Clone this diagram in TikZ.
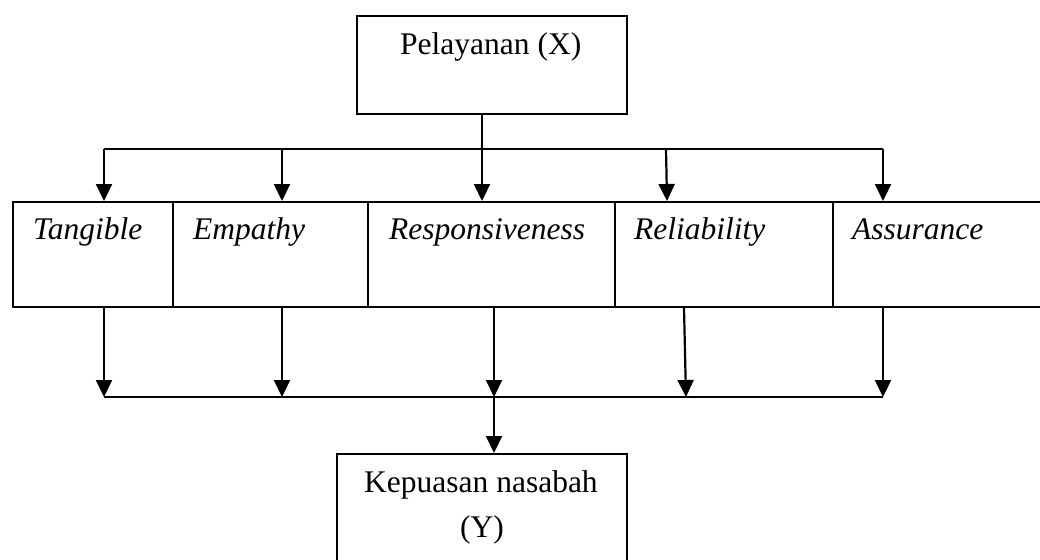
\documentclass[tikz,border=0pt]{standalone}
\usepackage{fontspec}
\setmainfont{Liberation Serif}
\usetikzlibrary{arrows.meta}
\begin{document}
\begin{tikzpicture}[x=1pt,y=-1pt,
  boxframe/.style={draw=black, line width=2.2pt, rectangle, inner sep=0pt, anchor=north west},
  lbl/.style={anchor=base west, inner sep=0pt, font=\fontsize{31.5}{37}\selectfont},
  ilbl/.style={lbl, font=\fontsize{31.5}{37}\selectfont\itshape},
  link/.style={line width=2.2pt, draw=black},
  arr/.style={link, -{Triangle[length=17pt,width=16pt]}},
]
\path[use as bounding box, clip] (0,0) rectangle (1040,559);

% top box
\node[boxframe, minimum width=270pt, minimum height=98pt] (top) at (356,15) {};
\node[lbl] (topl) at (400,55) {Pelayanan (X)};

% middle boxes
\node[boxframe, minimum width=160pt, minimum height=105pt] (tan) at (12,201) {};
\node[boxframe, minimum width=195pt, minimum height=105pt] (emp) at (172,201) {};
\node[boxframe, minimum width=247pt, minimum height=105pt] (res) at (367,201) {};
\node[boxframe, minimum width=218pt, minimum height=105pt] (rel) at (614,201) {};
\node[boxframe, minimum width=240pt, minimum height=105pt] (ass) at (832,201) {};

\node[ilbl] (tanl) at (33,239) {Tangible};
\node[ilbl] (empl) at (193,239) {Empathy};
\node[ilbl] (resl) at (389,239) {Responsiveness};
\node[ilbl] (rell) at (634,239) {Reliability};
\node[ilbl] (assl) at (852,239) {Assurance};

% bottom box
\node[boxframe, minimum width=290pt, minimum height=150pt] (bot) at (336,453) {};
\node[lbl] (botl1) at (364,492) {Kepuasan nasabah};
\node[lbl] (botl2) at (460,537) {(Y)};

% upper distribution
\coordinate (uL) at (104,149);
\coordinate (uR) at (883,149);
\coordinate (u2) at (282,149);
\coordinate (u4) at (666,149);
\draw[link] (uL) -- (uR);
\draw[arr] (top.south -| 482,0) -- (482,201);
\draw[arr] (uL) -- (uL |- tan.north);
\draw[arr] (u2) -- (u2 |- emp.north);
\draw[arr] (u4) -- (667,201);
\draw[arr] (uR) -- (uR |- ass.north);

% lower collection
\coordinate (lL) at (104,397);
\coordinate (lR) at (883,397);
\coordinate (lM) at (494,397);
\draw[link] (lL) -- (lR);
\draw[arr] (tan.south -| lL) -- (lL);
\draw[arr] (emp.south -| 282,0) -- (282,397);
\draw[arr] (res.south -| lM) -- (lM);
\draw[arr] (rel.south -| 684,0) -- (686,397);
\draw[arr] (ass.south -| lR) -- (lR);
\draw[arr] (lM) -- (lM |- bot.north);
\end{tikzpicture}
\end{document}
